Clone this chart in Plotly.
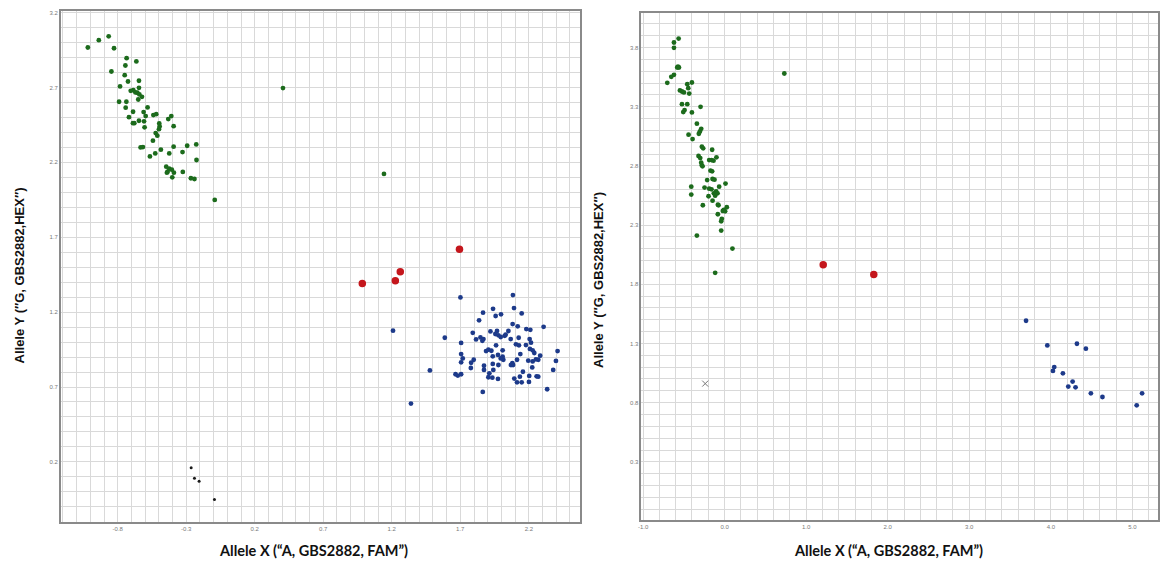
import plotly.graph_objects as go

# ---------------- Left panel data ----------------
left_green_x = [-1.018, -0.938, -0.866, -0.827, -0.846, -0.735, -0.664, -0.744, -0.749, -0.725,
                -0.645, -0.783, -0.705, -0.686, -0.671, -0.645, -0.657, -0.642, -0.623, -0.650,
                -0.790, -0.737, -0.742, -0.688, -0.718, -0.582, -0.611, -0.596, -0.540, -0.519,
                -0.645, -0.679, -0.689, -0.608, -0.604, -0.497, -0.494, -0.499, -0.431, -0.409,
                -0.392, -0.523, -0.511, -0.543, -0.633, -0.616, -0.485, -0.526, -0.565, -0.424,
                -0.392, -0.293, -0.227, -0.327, -0.225, -0.446, -0.424, -0.405, -0.436, -0.390,
                -0.441, -0.402, -0.325, -0.266, -0.240, -0.092, 0.406, 1.143]
left_green_y = [2.967, 3.016, 3.042, 2.962, 2.807, 2.896, 2.874, 2.847, 2.782, 2.740,
                2.745, 2.707, 2.678, 2.682, 2.667, 2.698, 2.665, 2.654, 2.638, 2.620,
                2.605, 2.605, 2.565, 2.538, 2.502, 2.567, 2.536, 2.509, 2.516, 2.522,
                2.478, 2.462, 2.462, 2.474, 2.434, 2.460, 2.440, 2.422, 2.489, 2.509,
                2.442, 2.396, 2.378, 2.345, 2.300, 2.302, 2.285, 2.260, 2.240, 2.260,
                2.305, 2.311, 2.320, 2.269, 2.216, 2.171, 2.158, 2.151, 2.138, 2.131,
                2.131, 2.100, 2.136, 2.094, 2.089, 1.949, 2.696, 2.123]

left_red_x = [0.985, 1.226, 1.262, 1.694]
left_red_y = [1.391, 1.409, 1.469, 1.620]

left_blue_x = [1.701, 2.084, 1.209, 1.587, 1.478, 1.340, 1.864, 2.334, 1.939, 2.092,
               1.866, 1.958, 1.997, 2.148, 1.837, 2.082, 2.119, 2.182, 2.211, 2.308,
               1.791, 1.920, 1.968, 2.051, 1.956, 1.978, 1.995, 2.024, 2.031, 1.847,
               1.869, 1.815, 1.861, 2.126, 2.068, 2.206, 2.216, 1.706, 2.106, 2.128,
               2.179, 1.961, 1.888, 1.905, 1.927, 2.009, 2.208, 2.228, 2.240, 2.410,
               2.009, 1.706, 1.937, 1.975, 2.014, 1.995, 2.080, 2.085, 2.138, 2.114,
               2.283, 2.269, 2.398, 1.718, 1.706, 1.779, 1.798, 1.937, 1.873, 1.978,
               2.070, 2.196, 2.228, 2.252, 1.777, 1.873, 1.941, 2.225, 2.378, 2.157,
               1.665, 1.682, 1.706, 1.912, 1.905, 1.934, 1.975, 2.094, 2.135, 2.203,
               2.257, 2.269, 2.114, 2.148, 2.201]
left_blue_y = [1.298, 1.314, 1.076, 1.029, 0.811, 0.589, 0.667, 0.685, 1.222, 1.227,
               1.196, 1.174, 1.185, 1.191, 1.145, 1.120, 1.105, 1.087, 1.082, 1.102,
               1.062, 1.071, 1.074, 1.074, 1.054, 1.045, 1.034, 1.042, 1.049, 1.031,
               1.020, 1.018, 1.009, 1.029, 1.020, 1.020, 0.996, 0.994, 0.985, 0.978,
               0.980, 0.978, 0.940, 0.949, 0.942, 0.945, 0.954, 0.945, 0.927, 0.940,
               0.902, 0.920, 0.905, 0.914, 0.882, 0.891, 0.860, 0.847, 0.920, 0.882,
               0.909, 0.882, 0.874, 0.891, 0.865, 0.862, 0.882, 0.854, 0.842, 0.847,
               0.847, 0.876, 0.871, 0.885, 0.827, 0.814, 0.814, 0.831, 0.814, 0.802,
               0.785, 0.776, 0.785, 0.791, 0.765, 0.762, 0.754, 0.756, 0.769, 0.774,
               0.771, 0.769, 0.731, 0.731, 0.734]

left_black_x = [-0.264, -0.240, -0.206, -0.094]
left_black_y = [0.160, 0.091, 0.071, -0.051]

left_x_ticks = [-0.8, -0.3, 0.2, 0.7, 1.2, 1.7, 2.2]
left_x_labels = ["-0.8", "-0.3", "0.2", "0.7", "1.2", "1.7", "2.2"]
left_y_ticks = [0.2, 0.7, 1.2, 1.7, 2.2, 2.7, 3.2]
left_y_labels = ["0.2", "0.7", "1.2", "1.7", "2.2", "2.7", "3.2"]

# ---------------- Right panel data ----------------
right_green_x = [-0.564, -0.621, -0.621, -0.572, -0.560, -0.581, -0.621, -0.654, -0.703, -0.458,
                 -0.401, -0.446, -0.548, -0.523, -0.499, -0.434, -0.523, -0.458, -0.491, -0.507,
                 -0.401, -0.295, -0.340, -0.287, -0.303, -0.316, -0.442, -0.393, -0.279, -0.263,
                 -0.153, -0.320, -0.299, -0.189, -0.161, -0.100, -0.136, -0.287, -0.279, -0.271,
                 -0.173, -0.153, -0.148, -0.124, -0.214, 0.011, -0.409, -0.067, -0.246, -0.189,
                 -0.161, -0.104, -0.132, -0.087, -0.116, -0.197, -0.409, -0.267, -0.148, -0.083,
                 -0.075, -0.010, 0.027, 0.006, -0.022, -0.083, -0.034, -0.042, -0.042, -0.340,
                 0.096, -0.116, 0.732]
right_green_y = [3.876, 3.843, 3.798, 3.640, 3.632, 3.632, 3.570, 3.553, 3.502, 3.491,
                 3.505, 3.457, 3.438, 3.429, 3.421, 3.412, 3.322, 3.322, 3.272, 3.255,
                 3.252, 3.300, 3.157, 3.114, 3.092, 3.072, 3.064, 3.027, 2.963, 2.949,
                 2.937, 2.884, 2.867, 2.850, 2.850, 2.873, 2.845, 2.828, 2.805, 2.797,
                 2.760, 2.755, 2.690, 2.684, 2.681, 2.651, 2.625, 2.625, 2.617, 2.608,
                 2.603, 2.586, 2.569, 2.569, 2.549, 2.544, 2.558, 2.468, 2.507, 2.473,
                 2.468, 2.428, 2.451, 2.417, 2.420, 2.392, 2.353, 2.333, 2.254, 2.212,
                 2.102, 1.897, 3.581]

right_red_x = [1.209, 1.829]
right_red_y = [1.965, 1.883]

right_blue_x = [3.696, 3.957, 4.320, 4.430, 4.042, 4.026, 4.148, 4.267, 4.214, 4.303,
                4.491, 4.633, 5.119, 5.053]
right_blue_y = [1.492, 1.284, 1.298, 1.256, 1.101, 1.068, 1.048, 0.978, 0.936, 0.930,
                0.879, 0.848, 0.879, 0.778]

right_nocall_x = [-0.238]
right_nocall_y = [0.961]

right_x_ticks = [-1.0, 0.0, 1.0, 2.0, 3.0, 4.0, 5.0]
right_x_labels = ["-1.0", "0.0", "1.0", "2.0", "3.0", "4.0", "5.0"]
right_y_ticks = [0.3, 0.8, 1.3, 1.8, 2.3, 2.8, 3.3, 3.8]
right_y_labels = ["0.3", "0.8", "1.3", "1.8", "2.3", "2.8", "3.3", "3.8"]

x_title = "Allele X (“A, GBS2882, FAM”)"
y_title = "Allele Y (″G, GBS2882,HEX″)"

# ---------------- Styling ----------------
GREEN = "#1c6b1c"
BLUE = "#1d3a8a"
RED = "#c4161c"
BLACK = "#1a1a1a"
GRID = "#d9d9d9"
AXIS = "#8a8a8a"

fig = go.Figure()


def add(x, y, color, size, xa, ya, symbol="circle"):
    fig.add_trace(go.Scatter(x=x, y=y, mode="markers", xaxis=xa, yaxis=ya,
                             marker=dict(color=color, size=size, symbol=symbol,
                                         line=dict(width=0)),
                             showlegend=False, hoverinfo="x+y"))


add(left_green_x, left_green_y, GREEN, 4.8, "x", "y")
add(left_blue_x, left_blue_y, BLUE, 4.8, "x", "y")
add(left_red_x, left_red_y, RED, 7.5, "x", "y")
add(left_black_x, left_black_y, BLACK, 3, "x", "y")

add(right_green_x, right_green_y, GREEN, 4.8, "x2", "y2")
add(right_blue_x, right_blue_y, BLUE, 4.8, "x2", "y2")
add(right_red_x, right_red_y, RED, 7.5, "x2", "y2")
fig.add_trace(go.Scatter(x=right_nocall_x, y=right_nocall_y, mode="markers", xaxis="x2", yaxis="y2",
                         marker=dict(symbol="x-thin", size=6, line=dict(color="#777777", width=1)),
                         showlegend=False))

tickfont = dict(family="Liberation Sans", size=6, color="#7a7a7a")


def axis(domain, rng, tv, tt, dtick, anchor):
    return dict(domain=domain, range=rng, anchor=anchor,
                tickmode="array", tickvals=tv, ticktext=tt, tickfont=tickfont,
                ticks="", showgrid=True, gridcolor=GRID, gridwidth=1,
                minor=dict(tickmode="linear", tick0=0, dtick=dtick, showgrid=True,
                           gridcolor=GRID, gridwidth=1, ticks=""),
                showline=True, linecolor=AXIS, linewidth=1.5, mirror=True,
                zeroline=False, fixedrange=True)


W, H = 1164, 565
fig.update_layout(
    width=W, height=H, margin=dict(l=0, r=0, t=0, b=0),
    paper_bgcolor="white", plot_bgcolor="white",
    xaxis=axis([58 / W, 578 / W], [-1.215, 2.57], left_x_ticks, left_x_labels, 0.1, "y"),
    yaxis=axis([1 - 521.7 / H, 1 - 10 / H], [-0.2, 3.211], left_y_ticks, left_y_labels, 0.1, "x"),
    xaxis2=axis([640 / W, 1158.3 / W], [-1.021, 5.318], right_x_ticks, right_x_labels, 0.2, "y2"),
    yaxis2=axis([1 - 520 / H, 1 - 12.3 / H], [-0.192, 4.09], right_y_ticks, right_y_labels, 0.1, "x2"),
)

xfont = dict(family="Lato", size=14.5, color="#111111")
yfont = dict(family="Liberation Sans", size=13, color="#111111")
ann = [
    dict(x=311 / W, y=1 - 550 / H, text="<b>" + x_title + "</b>", font=xfont),
    dict(x=888 / W, y=1 - 550 / H, text="<b>" + x_title + "</b>", font=xfont),
    dict(x=17 / W, y=1 - 275 / H, text="<b>" + y_title + "</b>", font=yfont, textangle=-90),
    dict(x=597 / W, y=1 - 279 / H, text="<b>" + y_title + "</b>", font=yfont, textangle=-90),
]
for a in ann:
    a.update(xref="paper", yref="paper", showarrow=False, xanchor="center", yanchor="middle")
fig.update_layout(annotations=ann)

fig.write_html("out.html")
